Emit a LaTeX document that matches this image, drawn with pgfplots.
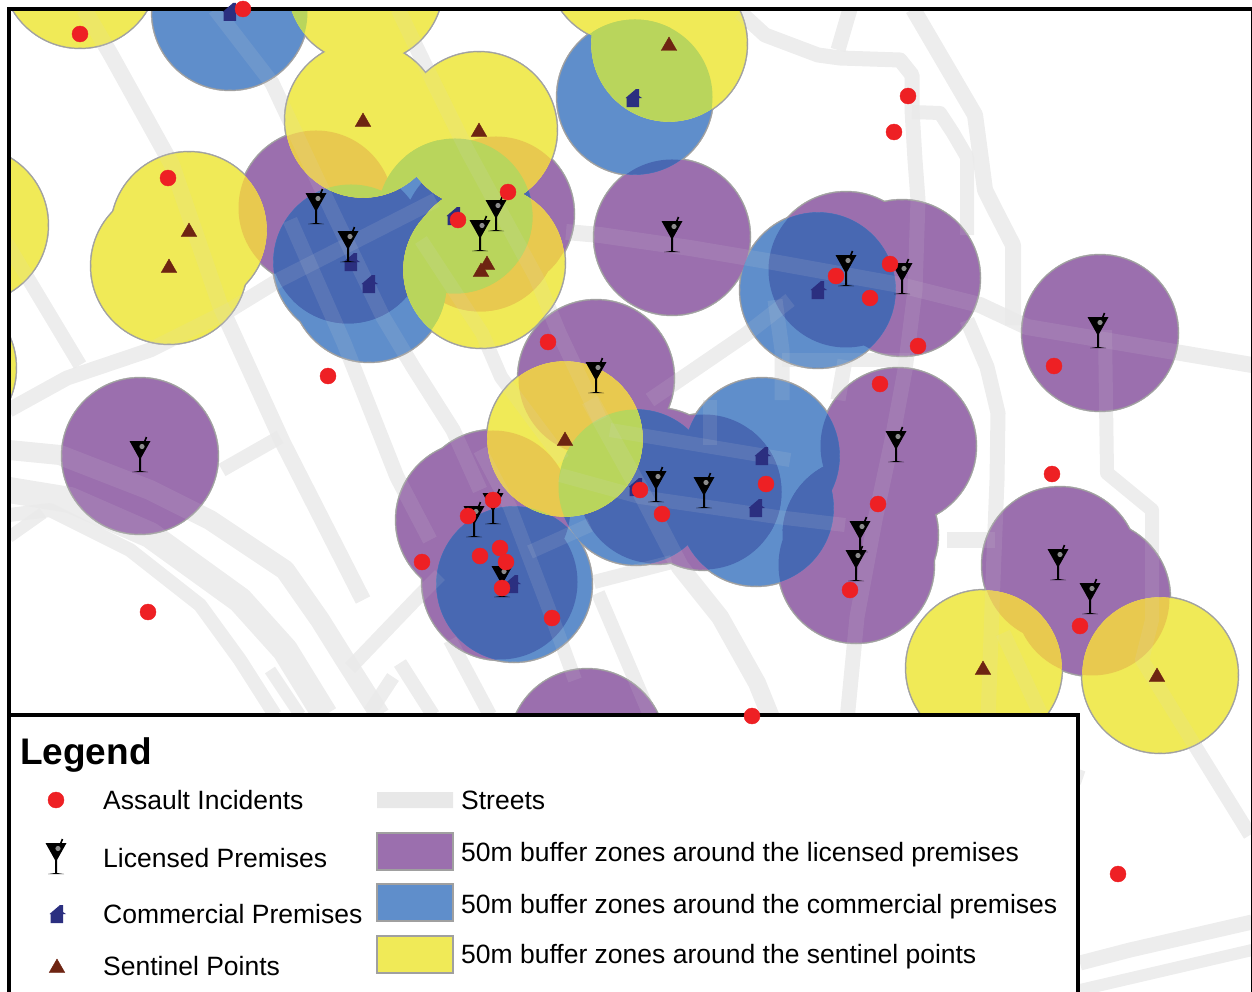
\documentclass[border=0pt]{standalone}
\usepackage{fontspec}
\setmainfont{Liberation Sans}
\usepackage{pgfplots}
\usepackage{pgfplotstable}
\pgfplotsset{compat=1.18}

\definecolor{purplez}{HTML}{9B6FAE}
\definecolor{bluez}{HTML}{5F8ECB}
\definecolor{yellowz}{HTML}{F0EA57}
\definecolor{darkz}{HTML}{4868B2}
\definecolor{orangez}{HTML}{E8C94F}
\definecolor{greenz}{HTML}{B9D55C}
\definecolor{ringz}{HTML}{A0A0A0}
\definecolor{redz}{HTML}{EE2024}
\definecolor{housez}{HTML}{2B2F80}
\definecolor{triz}{HTML}{6E2412}

% buffer centres, in pixels of the map
\pgfplotstableread{
x y
140 456
316 208
348 246
496 214
480 234
672 237
846 270
902 278
1100 333
596 378
898 446
860 535
856 565
656 486
704 492
474 520
493 508
500 582
1060 565
1092 598
587 747
}\purpletab
\def\purplelist{140/456,316/208,348/246,496/214,480/234,672/237,846/270,902/278,1100/333,596/378,898/446,860/535,856/565,656/486,704/492,474/520,493/508,500/582,1060/565,1092/598,587/747}

\pgfplotstableread{
x y
230 12
635 97
351 262
369 284
455 216
818 290
762 456
756 508
636 487
514 584
}\bluetab
\def\bluelist{230/12,635/97,351/262,369/284,455/216,818/290,762/456,756/508,636/487,514/584}

\pgfplotstableread{
x y
80 -30
365 -15
363 120
479 130
669 44
625 -35
189 230
169 266
487 263
481 270
565 439
984 668
1160 675
-30 225
-62 368
}\yellowtab

\newcommand\streets[1]{%
  \addplot[#1,line width=15pt] coordinates {(740,12)(765,35)(818,55)(840,58)(900,60)(912,75)(912,110)(915,160)(918,200)(915,290)(905,370)(892,440)(875,520)(857,617)(847,720)};
  \addplot[#1,line width=16pt] coordinates {(913,9)(975,115)(985,190)(995,210)(1013,245)(1013,325)};
  \addplot[#1,line width=14pt] coordinates {(912,112)(940,113)(953,133)(967,157)(967,235)};
  \addplot[#1,line width=15pt] coordinates {(838,50)(850,9)};
  \addplot[#1,line width=16pt] coordinates {(1252,365)(1027,327)(980,305)(900,285)(773,262)(690,248)(600,235)(566,232)};
  \addplot[#1,line width=15pt] coordinates {(967,320)(987,367)(998,413)(997,480)(993,580)(988,720)};
  \addplot[#1,line width=15pt] coordinates {(1003,633)(1040,713)};
  \addplot[#1,line width=16pt] coordinates {(947,540)(995,540)};
  \addplot[#1,line width=14pt] coordinates {(1105,330)(1107,473)(1152,510)(1152,620)(1142,660)(1250,835)};
  \addplot[#1,line width=15pt] coordinates {(1080,963)(1130,950)(1252,922)};
  \addplot[#1,line width=12pt] coordinates {(1080,990)(1252,950)};
  \addplot[#1,line width=14pt] coordinates {(1060,770)(1083,778)};
  \addplot[#1,line width=14pt] coordinates {(782,360)(910,360)};
  \addplot[#1,line width=15pt] coordinates {(650,400)(745,335)(790,300)};
  \addplot[#1,line width=15pt] coordinates {(782,400)(782,350)(775,300)};
  \addplot[#1,line width=15pt] coordinates {(838,400)(845,360)};
  \addplot[#1,line width=18pt] coordinates {(590,400)(640,490)(680,567)(720,617)(757,683)(772,720)};
  \addplot[#1,line width=14pt] coordinates {(480,450)(510,507)(553,620)(575,680)};
  \addplot[#1,line width=14pt] coordinates {(598,593)(650,715)};
  \addplot[#1,line width=14pt] coordinates {(5,240)(80,365)};
  \addplot[#1,line width=16pt] coordinates {(84,9)(111,55)(172,165)(220,305)(283,443)(363,600)};
  \addplot[#1,line width=15pt] coordinates {(215,9)(272,83)(333,213)(383,317)(413,367)(453,430)(480,490)};
  \addplot[#1,line width=15pt] coordinates {(398,9)(421,57)(467,150)(536,277)(559,333)(600,420)};
  \addplot[#1,line width=14pt] coordinates {(421,240)(482,333)(501,377)(563,460)};
  \addplot[#1,line width=15pt] coordinates {(290,220)(344,343)(397,477)(430,540)};
  \addplot[#1,line width=15pt] coordinates {(9,410)(67,378)(150,350)(230,310)(279,280)(436,200)};
  \addplot[#1,line width=14pt] coordinates {(222,470)(280,437)};
  \addplot[#1,line width=20pt] coordinates {(9,450)(60,455)(150,490)(210,520)(285,570)(320,620)(345,660)(380,715)};
  \addplot[#1,line width=26pt] coordinates {(9,490)(70,500)(150,535)(240,600)(285,650)(325,715)};
  \addplot[#1,line width=14pt] coordinates {(9,515)(50,510)(130,550)(200,605)(240,660)(275,715)};
  \addplot[#1,line width=12pt] coordinates {(9,537)(43,513)};
  \addplot[#1,line width=12pt] coordinates {(270,670)(300,715)};
  \addplot[#1,line width=14pt] coordinates {(350,668)(420,595)(440,575)};
  \addplot[#1,line width=14pt] coordinates {(400,663)(433,715)};
  \addplot[#1,line width=14pt] coordinates {(393,677)(370,712)};
  \addplot[#1,line width=14pt] coordinates {(450,640)(490,715)};
  \addplot[#1,line width=14pt] coordinates {(530,552)(590,525)};
  \addplot[#1,line width=14pt] coordinates {(594,582)(672,562)};
  \addplot[#1,line width=14pt] coordinates {(610,430)(790,460)};
  \addplot[#1,line width=14pt] coordinates {(560,475)(640,497)(777,517)(845,525)};
  \addplot[#1,line width=14pt] coordinates {(710,400)(710,445)};
}

\pgfdeclareplotmark{martini}{%
  \pgfpathmoveto{\pgfqpoint{-10.5pt}{15pt}}%
  \pgfpathlineto{\pgfqpoint{10.5pt}{15pt}}%
  \pgfpathlineto{\pgfqpoint{1pt}{-2pt}}%
  \pgfpathlineto{\pgfqpoint{1pt}{-15pt}}%
  \pgfpathlineto{\pgfqpoint{8pt}{-16pt}}%
  \pgfpathlineto{\pgfqpoint{-8pt}{-16pt}}%
  \pgfpathlineto{\pgfqpoint{-1pt}{-15pt}}%
  \pgfpathlineto{\pgfqpoint{-1pt}{-2pt}}%
  \pgfpathclose
  \pgfusepathqfill
  \begin{pgfscope}%
  \pgfsetlinewidth{1.6pt}%
  \pgfpathmoveto{\pgfqpoint{2pt}{8pt}}%
  \pgfpathlineto{\pgfqpoint{6.5pt}{19pt}}%
  \pgfusepathqstroke
  \pgfsetfillcolor{white}%
  \pgfsetfillopacity{0.55}%
  \pgfpathcircle{\pgfqpoint{2pt}{9.5pt}}{2.6pt}%
  \pgfusepathqfill
  \end{pgfscope}%
}
\pgfdeclareplotmark{shop}{%
  \pgfpathmoveto{\pgfqpoint{-6.5pt}{-9pt}}%
  \pgfpathlineto{\pgfqpoint{6pt}{-9pt}}%
  \pgfpathlineto{\pgfqpoint{6pt}{0pt}}%
  \pgfpathlineto{\pgfqpoint{9pt}{0pt}}%
  \pgfpathlineto{\pgfqpoint{6pt}{2pt}}%
  \pgfpathlineto{\pgfqpoint{6pt}{9pt}}%
  \pgfpathlineto{\pgfqpoint{3pt}{9pt}}%
  \pgfpathlineto{\pgfqpoint{-7.5pt}{0pt}}%
  \pgfpathlineto{\pgfqpoint{-6.5pt}{0pt}}%
  \pgfpathclose
  \pgfusepathqfill
}

\pgfplotsset{
  % the axis runs 100 px past the page on each side, so that zones centred off the map are kept
  map/.style={at={(-100pt,-100pt)},anchor=south west,scale only axis,width=1452pt,height=1192pt,
    xmin=-100,xmax=1352,ymin=-100,ymax=1092,y dir=reverse,hide axis},
  disk/.style={only marks,mark=*,color=#1,mark size=77.5pt,mark options={draw=none,fill=#1}},
  ring/.style={only marks,mark=*,color=ringz,mark size=79pt,mark options={draw=none,fill=ringz}},
  streetbase/.style={no markers,line join=round,color=black!6},
  streetover/.style={no markers,line join=round,color=black!15,opacity=0.12},
  swatch/.style={fill=#1,draw=ringz,line width=2.5pt},
}

% a map layer limited to the union of one family of zones
\newcommand\mixlayer[3]{%
  \begin{scope}
    \clip \foreach \p/\q in #1 {({\p pt},{992pt-\q pt}) circle[radius=77.5pt]};
    \begin{axis}[map]
      \addplot[disk=#3] table {#2};
    \end{axis}
  \end{scope}
}

\newcommand\legtext[3]{\node[anchor=base west,inner sep=0pt,font=\fontsize{26.5}{30}\selectfont] at (axis cs:#1,#2) {#3};}

\begin{document}
\begin{tikzpicture}
\begin{axis}[map]
\streets{streetbase}
% grey rims, seen only where a zone meets the white
\addplot[ring] table {\purpletab};
\addplot[ring] table {\bluetab};
\addplot[ring] table {\yellowtab};
\addplot[disk=purplez] table {\purpletab};
\addplot[disk=bluez] table {\bluetab};
\end{axis}

\mixlayer{\purplelist}{\bluetab}{darkz}

\begin{axis}[map]
\addplot[disk=yellowz] table {\yellowtab};
\end{axis}

\mixlayer{\purplelist}{\yellowtab}{orangez}
\mixlayer{\bluelist}{\yellowtab}{greenz}

\begin{axis}[map]
\streets{streetover}

\addplot[only marks,mark=shop,color=housez] coordinates {
(351,262)(369,284)(454,216)(230,12)(633,98)(818,290)(762,456)(756,508)(636,487)(512,584)};
\addplot[only marks,mark=triangle*,mark size=9pt,color=triz,mark options={draw=none}] coordinates {
(363,122)(479,132)(669,46)(189,232)(169,268)(487,265)(481,272)(565,441)(983,670)(1157,677)};
\addplot[only marks,mark=martini,color=black] coordinates {
(316,208)(348,246)(480,235)(496,215)(672,236)(846,270)(902,278)(1098,332)(596,377)(140,456)(896,446)(860,536)(856,565)(656,486)(704,492)(474,521)(493,508)(502,581)(1058,564)(1090,598)};
\addplot[only marks,mark=*,mark size=8pt,color=redz,mark options={draw=none}] coordinates {
(80,34)(243,9)(908,96)(894,132)(168,178)(508,192)(458,220)(890,264)(836,276)(870,298)(918,346)(548,342)(328,376)(1054,366)(880,384)(1052,474)(766,484)(640,490)(662,514)(878,504)(468,516)(493,500)(422,562)(480,556)(500,548)(506,562)(502,588)(552,618)(148,612)(850,590)(1080,626)(1118,874)(752,716)};

% cover what lies outside the frame
\addplot[fill=white,draw=none] coordinates {(-100,-100)(1352,-100)(1352,9)(9,9)(9,1092)(-100,1092)(-100,-100)};

% legend box
\addplot[fill=white,draw=black,line width=4pt] coordinates {(9,715)(1077.5,715)(1077.5,1000)(9,1000)(9,715)(1077.5,715)};
\addplot[no markers,black,line width=4pt] coordinates {(9,992)(9,9)(1252,9)};
\addplot[no markers,black,line width=1.5pt] coordinates {(1251.5,9)(1251.5,992)};

% legend keys
\addplot[only marks,mark=*,mark size=8pt,color=redz,mark options={draw=none}] coordinates {(56,800)};
\addplot[only marks,mark=martini,color=black] coordinates {(56,858)};
\addplot[only marks,mark=shop,color=housez] coordinates {(57,914)};
\addplot[only marks,mark=triangle*,mark size=9pt,color=triz,mark options={draw=none}] coordinates {(57,968)};
\addplot[fill=black!9,draw=none] coordinates {(377,792)(453,792)(453,808)(377,808)(377,792)};
\addplot[swatch=purplez] coordinates {(377,833)(453,833)(453,870)(377,870)(377,833)(453,833)};
\addplot[swatch=bluez] coordinates {(377,884)(453,884)(453,921)(377,921)(377,884)(453,884)};
\addplot[swatch=yellowz] coordinates {(377,936)(453,936)(453,973)(377,973)(377,936)(453,936)};

\node[anchor=base west,inner sep=0pt,font=\fontsize{37}{40}\selectfont\bfseries] at (axis cs:20,764) {Legend};
\legtext{103}{809}{Assault Incidents}
\legtext{103}{867}{Licensed Premises}
\legtext{103}{923}{Commercial Premises}
\legtext{103}{975}{Sentinel Points}
\legtext{461}{809}{Streets}
\legtext{461}{861}{50m buffer zones around the licensed premises}
\legtext{461}{913}{50m buffer zones around the commercial premises}
\legtext{461}{963}{50m buffer zones around the sentinel points}
\end{axis}
\pgfresetboundingbox
\path[use as bounding box] (0,0) rectangle (1252pt,992pt);
\end{tikzpicture}
\end{document}
